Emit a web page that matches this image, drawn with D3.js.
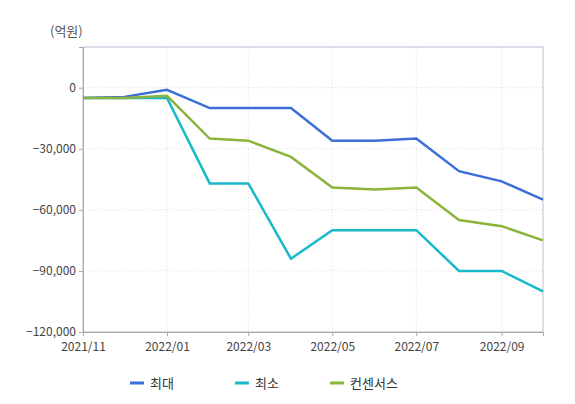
<!DOCTYPE html>
<html><head><meta charset="utf-8">
<script src="https://cdn.jsdelivr.net/npm/d3@7"></script>
<style>body{margin:0;background:#fff}text{font-family:"Noto Sans CJK KR","DejaVu Sans",sans-serif}</style>
</head><body><svg id="c" width="575" height="404"></svg>
<script>
// 월별 데이터 (억원)
const months = ["2021/11","2021/12","2022/01","2022/02","2022/03","2022/04","2022/05","2022/06","2022/07","2022/08","2022/09","2022/10"];
const maxVals = [-5000,-4500,-1000,-10000,-10000,-10000,-26000,-26000,-25000,-41000,-46000,-55000];
const minVals = [-5000,-5000,-5000,-47000,-47000,-84000,-70000,-70000,-70000,-90000,-90000,-100000];
const consVals = [-5000,-5000,-4000,-25000,-26000,-34000,-49000,-50000,-49000,-65000,-68000,-75000];
const xTicks = ["2021/11","2022/01","2022/03","2022/05","2022/07","2022/09"];
const yTicks = [0,-30000,-60000,-90000,-120000];
const series = [
  {name:"최대", values:maxVals, color:"#3a6fd8"},
  {name:"최소", values:minVals, color:"#1ab8c8"},
  {name:"컨센서스", values:consVals, color:"#8cb43c"}
];

const svg = d3.select("#c");
const L = 83, R = 543, T = 47, B = 332;
const parse = d3.timeParse("%Y/%m");
const x = d3.scaleTime().domain([parse("2021/11"), parse("2022/10")]).range([L, R]);
const y = d3.scaleLinear().domain([-120000, 20000]).range([B, T]);

// 그리드
svg.selectAll(".gy").data(yTicks).enter().append("line")
  .attr("x1", L).attr("x2", R).attr("y1", d => y(d)).attr("y2", d => y(d))
  .attr("stroke", "#ddd").attr("stroke-dasharray", "1,2");
svg.selectAll(".gx").data(xTicks).enter().append("line")
  .attr("x1", d => x(parse(d))).attr("x2", d => x(parse(d))).attr("y1", T).attr("y2", B)
  .attr("stroke", "#ddd").attr("stroke-dasharray", "1,2");

svg.append("rect").attr("x", L).attr("y", T).attr("width", R - L).attr("height", B - T)
  .attr("fill", "none").attr("stroke", "#c9b6d6");

const fmt = d3.format(",");
svg.append("g").attr("transform", `translate(${L},0)`)
  .call(d3.axisLeft(y).tickValues(yTicks).tickFormat(fmt).tickSize(4))
  .call(g => g.select(".domain").attr("stroke", "#aaa"))
  .call(g => g.selectAll(".tick line").attr("stroke", "#aaa"))
  .call(g => g.selectAll("text").attr("fill", "#444").attr("font-size", 12));

svg.append("g").attr("transform", `translate(0,${B})`)
  .call(d3.axisBottom(x).tickValues(xTicks.map(parse)).tickFormat(d3.timeFormat("%Y/%m")).tickSize(4))
  .call(g => g.select(".domain").attr("stroke", "#aaa"))
  .call(g => g.selectAll(".tick line").attr("stroke", "#aaa"))
  .call(g => g.selectAll("text").attr("fill", "#444").attr("font-size", 12).attr("dy", "1em"));

svg.append("text").attr("x", 50).attr("y", 36).attr("font-size", 13).attr("fill", "#555").text("(억원)");

const line = d3.line().x((d, i) => x(parse(months[i]))).y(d => y(d));
[series[1], series[0], series[2]].forEach(s => {
  svg.append("path").datum(s.values).attr("d", line)
    .attr("fill", "none").attr("stroke", s.color).attr("stroke-width", 2.5);
});

// 범례
const lx = [130, 235, 330];
series.forEach((s, i) => {
  const g = svg.append("g").attr("transform", `translate(${lx[i]},383)`);
  g.append("line").attr("x1", 0).attr("x2", 14).attr("stroke", s.color).attr("stroke-width", 3);
  g.append("text").attr("x", 20).attr("y", 5).attr("font-size", 13).attr("fill", "#333").text(s.name);
});
</script></body></html>
